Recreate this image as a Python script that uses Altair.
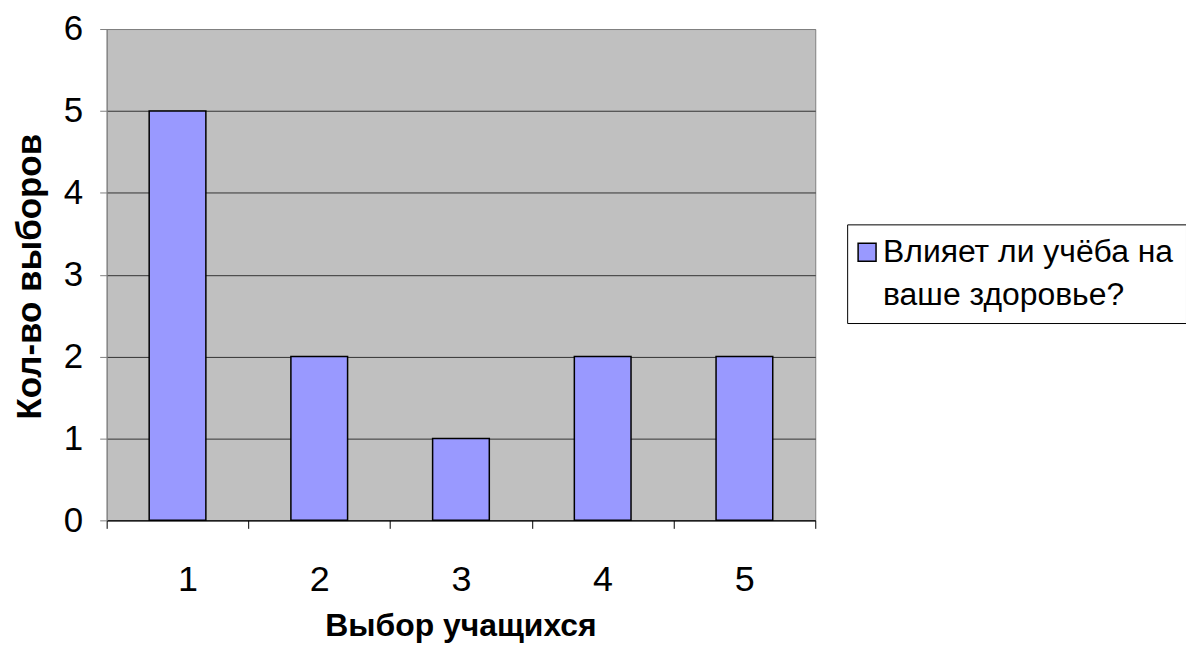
import altair as alt
import pandas as pd

categories = [1, 2, 3, 4, 5]
values = [5, 2, 1, 2, 2]
series_name = "Влияет ли учёба на ваше здоровье?"
legend_lines = ["Влияет ли учёба на", "ваше здоровье?"]
y_title = "Кол-во выборов"
x_title = "Выбор учащихся"

df = pd.DataFrame({"cat": categories, "value": values, "series": [series_name] * len(categories)})

FONT = "Liberation Sans, Arial, sans-serif"
tick_values = [c - 0.5 for c in categories] + [categories[-1] + 0.5]
label_expr = "datum.value < %s ? format(datum.value + 0.5, 'd') : ''" % (categories[-1])

chart = (
    alt.Chart(df)
    .transform_calculate(x0="datum.cat - 0.2", x1="datum.cat + 0.2")
    .mark_bar(stroke="black", strokeWidth=1.5)
    .encode(
        x=alt.X(
            "x0:Q",
            scale=alt.Scale(domain=[0.5, 5.5], nice=False, zero=False),
            axis=alt.Axis(
                values=tick_values,
                labelExpr=label_expr,
                labelOffset=71,
                tickSize=8,
                tickColor="black",
                domainColor="black",
                grid=False,
                labelFont=FONT,
                labelFontSize=36,
                labelColor="black",
                labelBaseline="alphabetic",
                labelPadding=62,
                title=x_title,
                titleFont=FONT,
                titleFontSize=32,
                titleFontWeight="bold",
                titleColor="black",
                titleBaseline="alphabetic",
                titleY=116,
                titleX=355,
            ),
        ),
        x2="x1:Q",
        y=alt.Y(
            "value:Q",
            scale=alt.Scale(domain=[0, 6], nice=False),
            axis=alt.Axis(
                values=[0, 1, 2, 3, 4, 5, 6],
                tickSize=7,
                tickColor="#808080",
                domainColor="#808080",
                grid=True,
                gridColor={"condition": {"test": "datum.value === 6", "value": "#808080"}, "value": "#333333"},
                labelFont=FONT,
                labelFontSize=35,
                labelColor="black",
                labelPadding=17,
                title=y_title,
                titleFont=FONT,
                titleFontSize=35,
                titleFontWeight="bold",
                titleColor="black",
                titleAngle=-90,
                titleBaseline="alphabetic",
                titleX=-66,
                titleY=248,
            ),
        ),
        y2=alt.datum(0),
        color=alt.Color(
            "series:N",
            scale=alt.Scale(range=["#9999FF"]),
            legend=alt.Legend(
                title=None,
                orient="none",
                legendX=743,
                legendY=196,
                symbolType="square",
                symbolSize=324,
                symbolStrokeColor="black",
                symbolStrokeWidth=1.5,
                symbolOffset=-8,
                labelFont=FONT,
                labelFontSize=32,
                labelColor="black",
                labelLimit=500,
                labelOffset=0,
                labelExpr="['%s', '%s']" % (legend_lines[0], legend_lines[1]),
                strokeColor="black",
                fillColor="white",
                padding=12,
            ),
        ),
    )
    .properties(
        width=711,
        height=493,
        autosize=alt.AutoSizeParams(type="none"),
        padding={"left": 99, "top": 20, "right": 372, "bottom": 133},
    )
    .configure(style={"guide-label": {"lineHeight": 43}})
    .configure_view(fill="#C0C0C0", stroke="#808080", strokeWidth=1)
)

chart.save("out.html", embed_options={"renderer": "svg", "actions": False})
